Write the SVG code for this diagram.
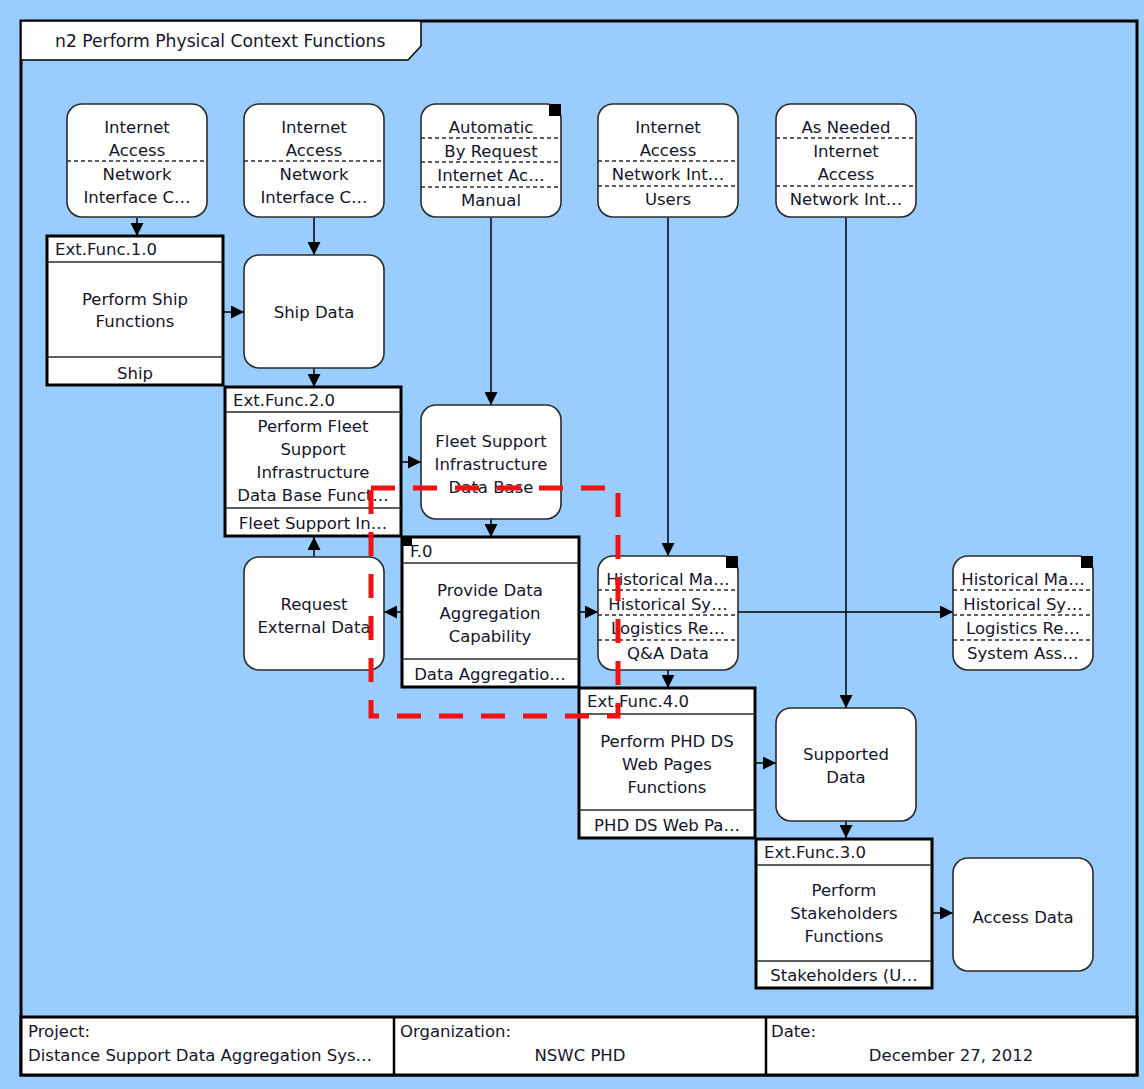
<svg xmlns="http://www.w3.org/2000/svg" width="1144" height="1089" viewBox="0 0 1144 1089">
<style>
text{font-family:"DejaVu Sans",Verdana,sans-serif;font-size:16.5px;fill:#15152a}
.c{text-anchor:middle}
.ft{font-size:16.5px}
.tt{font-size:17.2px}
.rn{fill:#fff;stroke:#2a2a2a;stroke-width:1.6}
.fn{fill:#fff;stroke:#000;stroke-width:3}
.dv{stroke:#2a2a2a;stroke-width:1.4}
.dd{stroke:#2a2a2a;stroke-width:1.4;stroke-dasharray:4 3}
.cn{stroke:#000;stroke-width:1.5;fill:none;marker-end:url(#ah)}
</style>
<defs>
<marker id="ah" markerUnits="userSpaceOnUse" markerWidth="13" markerHeight="13" refX="13" refY="6.5" orient="auto">
<path d="M0,0 L13,6.5 L0,13 z" fill="#000"/>
</marker>
</defs>
<rect x="0" y="0" width="1144" height="1089" fill="#99CCFF"/>
<rect x="21" y="21" width="1116" height="1054" fill="none" stroke="#000" stroke-width="3"/>
<g id="title">
<path d="M21,21 H421 V46 L408,60 H21 Z" fill="#fff" stroke="#000" stroke-width="1.5"/>
<text class="tt" x="55" y="47">n2 Perform Physical Context Functions</text>
</g>

<g id="connectors">
<line class="cn" x1="137" y1="218" x2="137" y2="236"/>
<line class="cn" x1="314" y1="218" x2="314" y2="255"/>
<line class="cn" x1="224" y1="312" x2="244" y2="312"/>
<line class="cn" x1="314" y1="368" x2="314" y2="387"/>
<line class="cn" x1="491" y1="218" x2="491" y2="405"/>
<line class="cn" x1="402" y1="462" x2="421" y2="462"/>
<line class="cn" x1="491" y1="519" x2="491" y2="537"/>
<line class="cn" x1="314" y1="557" x2="314" y2="537"/>
<line class="cn" x1="402" y1="612" x2="384" y2="612"/>
<line class="cn" x1="579" y1="612" x2="598" y2="612"/>
<line class="cn" x1="668" y1="218" x2="668" y2="556"/>
<line class="cn" x1="738" y1="612" x2="953" y2="612"/>
<line class="cn" x1="668" y1="670" x2="668" y2="688"/>
<line class="cn" x1="846" y1="218" x2="846" y2="708"/>
<line class="cn" x1="756" y1="763" x2="776" y2="763"/>
<line class="cn" x1="846" y1="821" x2="846" y2="838"/>
<line class="cn" x1="933" y1="913" x2="953" y2="913"/>
</g>

<g id="nodeA">
<rect class="rn" x="67" y="104" width="140" height="113" rx="15"/>
<line class="dd" x1="67" y1="161" x2="207" y2="161"/>
<text class="c" x="137" y="133">Internet</text>
<text class="c" x="137" y="156">Access</text>
<text class="c" x="137" y="180">Network</text>
<text class="c" x="137" y="203">Interface C…</text>
</g>
<g id="nodeB">
<rect class="rn" x="244" y="104" width="140" height="113" rx="15"/>
<line class="dd" x1="244" y1="161" x2="384" y2="161"/>
<text class="c" x="314" y="133">Internet</text>
<text class="c" x="314" y="156">Access</text>
<text class="c" x="314" y="180">Network</text>
<text class="c" x="314" y="203">Interface C…</text>
</g>
<g id="nodeC">
<rect class="rn" x="421" y="104" width="140" height="113" rx="15"/>
<rect x="549" y="104" width="12" height="12" fill="#000"/>
<line class="dd" x1="421" y1="138" x2="561" y2="138"/>
<line class="dd" x1="421" y1="162" x2="561" y2="162"/>
<line class="dd" x1="421" y1="187" x2="561" y2="187"/>
<text class="c" x="491" y="133">Automatic</text>
<text class="c" x="491" y="157">By Request</text>
<text class="c" x="491" y="181">Internet Ac…</text>
<text class="c" x="491" y="206">Manual</text>
</g>
<g id="nodeD">
<rect class="rn" x="598" y="104" width="140" height="113" rx="15"/>
<line class="dd" x1="598" y1="161" x2="738" y2="161"/>
<line class="dd" x1="598" y1="186" x2="738" y2="186"/>
<text class="c" x="668" y="133">Internet</text>
<text class="c" x="668" y="156">Access</text>
<text class="c" x="668" y="180">Network Int…</text>
<text class="c" x="668" y="205">Users</text>
</g>
<g id="nodeE">
<rect class="rn" x="776" y="104" width="140" height="113" rx="15"/>
<line class="dd" x1="776" y1="138" x2="916" y2="138"/>
<line class="dd" x1="776" y1="186" x2="916" y2="186"/>
<text class="c" x="846" y="133">As Needed</text>
<text class="c" x="846" y="157">Internet</text>
<text class="c" x="846" y="180">Access</text>
<text class="c" x="846" y="205">Network Int…</text>
</g>

<g id="extfunc1">
<rect class="fn" x="47" y="236" width="176" height="149"/>
<line class="dv" x1="47" y1="262" x2="223" y2="262"/>
<line class="dv" x1="47" y1="357" x2="223" y2="357"/>
<text x="55" y="255">Ext.Func.1.0</text>
<text class="c" x="135" y="305">Perform Ship</text>
<text class="c" x="135" y="327">Functions</text>
<text class="c" x="135" y="379">Ship</text>
</g>
<g id="shipdata">
<rect class="rn" x="244" y="255" width="140" height="113" rx="15"/>
<text class="c" x="314" y="318">Ship Data</text>
</g>
<g id="extfunc2">
<rect class="fn" x="225" y="387" width="176" height="149"/>
<line class="dv" x1="225" y1="412" x2="401" y2="412"/>
<line class="dv" x1="225" y1="508" x2="401" y2="508"/>
<text x="233" y="406">Ext.Func.2.0</text>
<text class="c" x="313" y="432">Perform Fleet</text>
<text class="c" x="313" y="455">Support</text>
<text class="c" x="313" y="478">Infrastructure</text>
<text class="c" x="313" y="501">Data Base Funct…</text>
<text class="c" x="313" y="529">Fleet Support In…</text>
</g>
<g id="fleetdb">
<rect class="rn" x="421" y="405" width="140" height="114" rx="15"/>
<text class="c" x="491" y="447">Fleet Support</text>
<text class="c" x="491" y="470">Infrastructure</text>
<text class="c" x="491" y="493">Data Base</text>
</g>
<g id="f0">
<rect class="fn" x="402" y="537" width="177" height="150"/>
<rect x="402" y="537" width="10" height="9" fill="#000"/>
<line class="dv" x1="402" y1="563" x2="579" y2="563"/>
<line class="dv" x1="402" y1="659" x2="579" y2="659"/>
<text x="410" y="557">F.0</text>
<text class="c" x="490" y="596">Provide Data</text>
<text class="c" x="490" y="619">Aggregation</text>
<text class="c" x="490" y="642">Capability</text>
<text class="c" x="490" y="680">Data Aggregatio…</text>
</g>
<g id="requestext">
<rect class="rn" x="244" y="557" width="140" height="113" rx="15"/>
<text class="c" x="314" y="610">Request</text>
<text class="c" x="314" y="633">External Data</text>
</g>
<g id="histmid">
<rect class="rn" x="598" y="556" width="140" height="114" rx="15"/>
<rect x="726" y="556" width="12" height="12" fill="#000"/>
<line class="dd" x1="598" y1="590" x2="738" y2="590"/>
<line class="dd" x1="598" y1="615" x2="738" y2="615"/>
<line class="dd" x1="598" y1="640" x2="738" y2="640"/>
<text class="c" x="668" y="585">Historical Ma…</text>
<text class="c" x="668" y="610">Historical Sy…</text>
<text class="c" x="668" y="634">Logistics Re…</text>
<text class="c" x="668" y="659">Q&amp;A Data</text>
</g>
<g id="histright">
<rect class="rn" x="953" y="556" width="140" height="114" rx="15"/>
<rect x="1081" y="556" width="12" height="12" fill="#000"/>
<line class="dd" x1="953" y1="590" x2="1093" y2="590"/>
<line class="dd" x1="953" y1="615" x2="1093" y2="615"/>
<line class="dd" x1="953" y1="640" x2="1093" y2="640"/>
<text class="c" x="1023" y="585">Historical Ma…</text>
<text class="c" x="1023" y="610">Historical Sy…</text>
<text class="c" x="1023" y="634">Logistics Re…</text>
<text class="c" x="1023" y="659">System Ass…</text>
</g>
<g id="extfunc4">
<rect class="fn" x="579" y="688" width="176" height="150"/>
<line class="dv" x1="579" y1="714" x2="755" y2="714"/>
<line class="dv" x1="579" y1="810" x2="755" y2="810"/>
<text x="587" y="707">Ext.Func.4.0</text>
<text class="c" x="667" y="747">Perform PHD DS</text>
<text class="c" x="667" y="770">Web Pages</text>
<text class="c" x="667" y="793">Functions</text>
<text class="c" x="667" y="831">PHD DS Web Pa…</text>
</g>
<g id="supported">
<rect class="rn" x="776" y="708" width="140" height="113" rx="15"/>
<text class="c" x="846" y="760">Supported</text>
<text class="c" x="846" y="783">Data</text>
</g>
<g id="extfunc3">
<rect class="fn" x="756" y="839" width="176" height="149"/>
<line class="dv" x1="756" y1="865" x2="932" y2="865"/>
<line class="dv" x1="756" y1="961" x2="932" y2="961"/>
<text x="764" y="858">Ext.Func.3.0</text>
<text class="c" x="844" y="896">Perform</text>
<text class="c" x="844" y="919">Stakeholders</text>
<text class="c" x="844" y="942">Functions</text>
<text class="c" x="844" y="981">Stakeholders (U…</text>
</g>
<g id="accessdata">
<rect class="rn" x="953" y="858" width="140" height="113" rx="15"/>
<text class="c" x="1023" y="923">Access Data</text>
</g>

<rect id="highlight" x="371" y="488" width="247" height="228" fill="none" stroke="#f21010" stroke-width="5" stroke-dasharray="24 18"/>

<g id="footer">
<rect x="21" y="1017" width="1116" height="58" fill="#fff" stroke="#000" stroke-width="3"/>
<line x1="394" y1="1017" x2="394" y2="1075" stroke="#000" stroke-width="2.5"/>
<line x1="766" y1="1017" x2="766" y2="1075" stroke="#000" stroke-width="2.5"/>
<text class="ft" x="28" y="1037">Project:</text>
<text class="ft" x="28" y="1061">Distance Support Data Aggregation Sys…</text>
<text class="ft" x="400" y="1037">Organization:</text>
<text class="ft c" x="580" y="1061">NSWC PHD</text>
<text class="ft" x="771" y="1037">Date:</text>
<text class="ft c" x="951" y="1061">December 27, 2012</text>
</g>
</svg>
